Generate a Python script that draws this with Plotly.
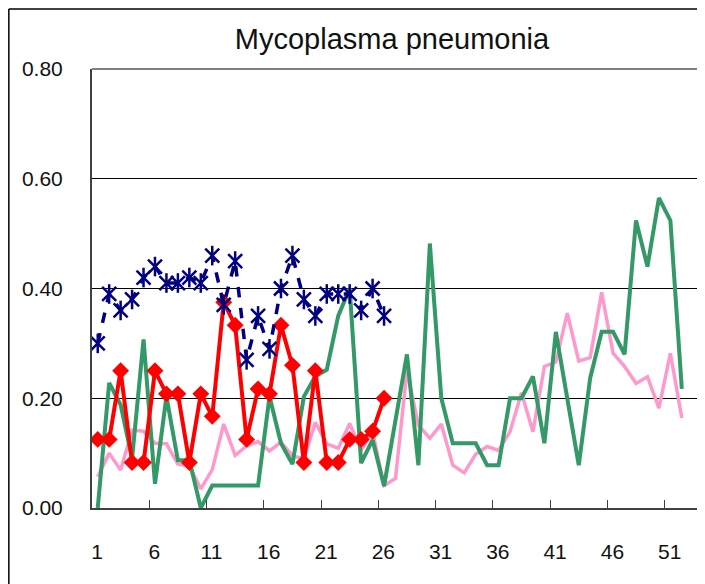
import plotly.graph_objects as go

weeks = list(range(1, 53))
weeks_cur = list(range(1, 27))

series_blue = [0.30, 0.39, 0.36, 0.38, 0.42, 0.44, 0.41, 0.41, 0.42, 0.41,
               0.46, 0.37, 0.45, 0.27, 0.35, 0.29, 0.40, 0.46, 0.38, 0.35,
               0.39, 0.39, 0.39, 0.36, 0.40, 0.35]
series_red = [0.125, 0.125, 0.25, 0.083, 0.083, 0.25, 0.208, 0.208, 0.083, 0.208,
              0.167, 0.375, 0.333, 0.125, 0.217, 0.208, 0.333, 0.26, 0.083, 0.25,
              0.083, 0.083, 0.125, 0.125, 0.14, 0.20]
series_green = [0.0, 0.228, 0.188, 0.09, 0.307, 0.044, 0.203, 0.087, 0.087, 0.0,
                0.041, 0.041, 0.041, 0.041, 0.041, 0.203, 0.118, 0.08, 0.203, 0.24,
                0.252, 0.35, 0.40, 0.082, 0.124, 0.04, 0.16, 0.28, 0.078, 0.482,
                0.20, 0.118, 0.118, 0.118, 0.078, 0.078, 0.20, 0.20, 0.24, 0.118,
                0.321, 0.20, 0.078, 0.237, 0.321, 0.321, 0.28, 0.524, 0.44, 0.565,
                0.524, 0.217]
series_pink = [0.057, 0.10, 0.069, 0.142, 0.14, 0.118, 0.117, 0.08, 0.077, 0.035,
               0.07, 0.153, 0.096, 0.113, 0.121, 0.104, 0.12, 0.095, 0.09, 0.156,
               0.117, 0.109, 0.154, 0.105, 0.139, 0.041, 0.054, 0.25, 0.151, 0.127,
               0.153, 0.078, 0.064, 0.098, 0.112, 0.105, 0.139, 0.21, 0.139, 0.258,
               0.266, 0.355, 0.268, 0.274, 0.393, 0.282, 0.258, 0.227, 0.239, 0.182,
               0.282, 0.164]

tick_pos = [0.5 + 5 * i for i in range(11)]
tick_labels = [str(1 + 5 * i) for i in range(11)]
y_ticks = [0, 0.2, 0.4, 0.6, 0.8]

NAVY = "#000080"
RED = "#FF0000"
GREEN = "#339966"
PINK = "#FF99CC"

fig = go.Figure()
fig.add_trace(go.Scatter(x=weeks, y=series_pink, mode="lines",
                         line=dict(color=PINK, width=3.5), showlegend=False))
fig.add_trace(go.Scatter(x=weeks, y=series_green, mode="lines",
                         line=dict(color=GREEN, width=4), showlegend=False))
fig.add_trace(go.Scatter(x=weeks_cur, y=series_red, mode="lines+markers",
                         line=dict(color=RED, width=4),
                         marker=dict(symbol="diamond", size=13, color=RED),
                         showlegend=False))
fig.add_trace(go.Scatter(x=weeks_cur, y=series_blue, mode="lines+markers",
                         line=dict(color=NAVY, width=3.5, dash="dash"),
                         marker=dict(symbol="x-thin-open", size=14, color=NAVY,
                                     line=dict(color=NAVY, width=2.5)),
                         showlegend=False))
fig.add_trace(go.Scatter(x=weeks_cur, y=series_blue, mode="markers",
                         marker=dict(symbol="line-ns-open", size=14, color=NAVY,
                                     line=dict(color=NAVY, width=2.5)),
                         showlegend=False))

FONT = "Liberation Sans"

fig.update_layout(
    width=705, height=584,
    margin=dict(l=84, r=14, t=61, b=84, autoexpand=False),
    paper_bgcolor="white", plot_bgcolor="white",
    font=dict(family=FONT, color="#111111", size=21),
    title=dict(text="Mycoplasma pneumonia", font=dict(family=FONT, size=29, color="#111111"),
               x=384 / 705, xref="container", xanchor="center",
               y=1 - 31 / 584, yref="container", yanchor="middle", automargin=False),
    xaxis=dict(range=[0.5, 53.5], tickmode="array", tickvals=tick_pos, ticktext=tick_labels,
               ticks="inside", ticklen=8, tickwidth=1, tickcolor="#404040",
               ticklabelshift=5, ticklabelstandoff=24, automargin=False,
               showgrid=False, zeroline=False,
               showline=True, linecolor="#404040", linewidth=2,
               tickfont=dict(family=FONT, size=21, color="#111111")),
    yaxis=dict(range=[0, 0.8], tickmode="array", tickvals=y_ticks, tickformat=".2f",
               ticks="", ticklabelstandoff=23, automargin=False,
               showgrid=True, gridcolor="#000000", gridwidth=1, zeroline=False,
               showline=True, linecolor="#404040", linewidth=2,
               tickfont=dict(family=FONT, size=21, color="#111111")),
    shapes=[
        dict(type="line", xref="paper", yref="paper", x0=0, x1=1, y0=1, y1=1,
             line=dict(color="#808080", width=2)),
        dict(type="line", xref="paper", yref="paper", x0=1, x1=1, y0=0, y1=1,
             line=dict(color="#808080", width=2)),
        dict(type="line", xref="paper", yref="paper", x0=-0.137, x1=-0.137, y0=-0.2, y1=1.1368,
             line=dict(color="#000000", width=1.5)),
        dict(type="line", xref="paper", yref="paper", x0=-0.137, x1=1.05, y0=1.1368, y1=1.1368,
             line=dict(color="#000000", width=1.5)),
    ],
)

fig.write_html("out.html")
